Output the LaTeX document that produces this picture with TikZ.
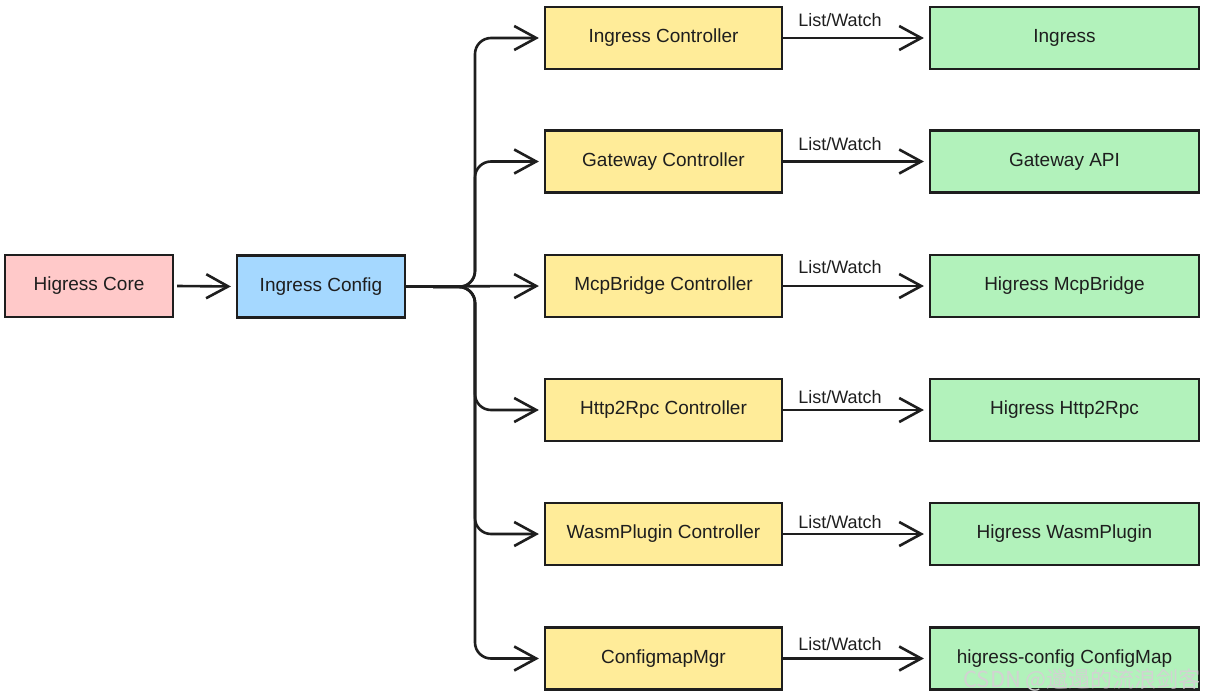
\documentclass[tikz,border=0pt]{standalone}
\usepackage{fontspec}
\setmainfont{Liberation Sans}
\newfontfamily\cjkwm{Noto Sans CJK SC}
\usetikzlibrary{arrows.meta}
\definecolor{inkc}{HTML}{1E1E1E}
\definecolor{pinkf}{HTML}{FFC9C9}
\definecolor{bluef}{HTML}{A5D8FF}
\definecolor{yellowf}{HTML}{FFEC99}
\definecolor{greenf}{HTML}{B2F2BB}
\tikzset{
  box/.style={draw=inkc, line width=2.2pt, inner sep=0pt, minimum height=62pt, font=\fontsize{19}{21}\selectfont, text=inkc},
  corebox/.style={box, fill=pinkf, minimum width=168pt},
  cfgbox/.style={box, fill=bluef, minimum width=168pt},
  ctlbox/.style={box, fill=yellowf, minimum width=237pt},
  resbox/.style={box, fill=greenf, minimum width=269pt},
  conn/.style={draw=inkc, line width=2.6pt, -{Straight Barb[length=22pt, width=24pt, line width=2.6pt]}, shorten >=5pt},
  lbl/.style={font=\fontsize{18}{20}\selectfont, text=inkc, inner sep=0pt}
}
\begin{document}
\begin{tikzpicture}[x=1pt, y=-1pt]
\useasboundingbox (0,0) rectangle (1208,699);
\node[corebox] (core) at (89,286) {Higress Core};
\node[cfgbox] (cfg) at (321,286.5) {Ingress Config};

\node[ctlbox] (c1) at (663.5,38) {Ingress Controller};
\node[ctlbox] (c2) at (663.5,161.5) {Gateway Controller};
\node[ctlbox] (c3) at (663.5,286) {McpBridge Controller};
\node[ctlbox] (c4) at (663.5,410) {Http2Rpc Controller};
\node[ctlbox] (c5) at (663.5,534) {WasmPlugin Controller};
\node[ctlbox] (c6) at (663.5,658.5) {ConfigmapMgr};

\node[resbox] (r1) at (1064.5,38) {Ingress};
\node[resbox] (r2) at (1064.5,161.5) {Gateway API};
\node[resbox] (r3) at (1064.5,286) {Higress McpBridge};
\node[resbox] (r4) at (1064.5,410) {Higress Http2Rpc};
\node[resbox] (r5) at (1064.5,534) {Higress WasmPlugin};
\node[resbox] (r6) at (1064.5,658.5) {higress-config ConfigMap};

\coordinate (hub) at (475,287);
\path[conn] (core.east) ++(3pt,0) -- (cfg.west);
\foreach \i in {1,2,4,5,6}{
  \draw[conn, rounded corners=16pt] (cfg.east) -- (hub) |- (c\i.west);
}
\draw[conn] (cfg.east) -- (c3.west);

\foreach \i/\ly in {1/20,2/144,3/267,4/397,5/522,6/644}{
  \draw[conn] (c\i.east) -- (r\i.west);
  \node[lbl] (l\i) at (840,\ly) {List/Watch};
}

\node[text=gray!35, font=\cjkwm\fontsize{22}{24}\selectfont, anchor=east, inner sep=0pt] (wm) at (1201,680) {CSDN @邋遢的流浪剑客};
\end{tikzpicture}
\end{document}
